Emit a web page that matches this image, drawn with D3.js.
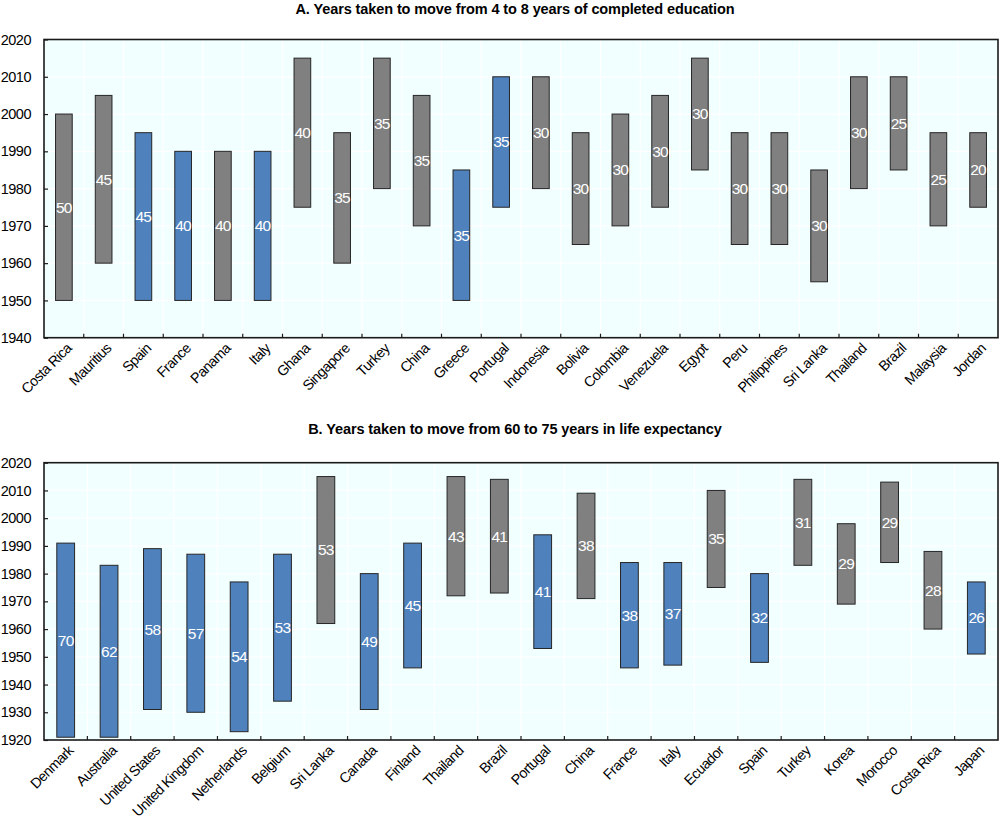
<!DOCTYPE html>
<html><head><meta charset="utf-8">
<script src="https://cdn.jsdelivr.net/npm/d3@7"></script>
<style>
body{margin:0;background:#fff;}
svg{display:block;font-family:"Liberation Sans",Arial,sans-serif;}
</style></head><body>
<svg id="c" width="1000" height="821"></svg>
<script>
// Panel A
const catsA = ["Costa Rica","Mauritius","Spain","France","Panama","Italy","Ghana","Singapore","Turkey","China","Greece","Portugal","Indonesia","Bolivia","Colombia","Venezuela","Egypt","Peru","Philippines","Sri Lanka","Thailand","Brazil","Malaysia","Jordan"];
const startA = [1950,1960,1950,1950,1950,1950,1975,1960,1980,1970,1950,1975,1980,1965,1970,1975,1985,1965,1965,1955,1980,1985,1970,1975];
const endA   = [2000,2005,1995,1990,1990,1990,2015,1995,2015,2005,1985,2010,2010,1995,2000,2005,2015,1995,1995,1985,2010,2010,1995,1995];
const labelA = [50,45,45,40,40,40,40,35,35,35,35,35,30,30,30,30,30,30,30,30,30,25,25,20];
const oecdA  = [0,0,1,1,0,1,0,0,0,0,1,1,0,0,0,0,0,0,0,0,0,0,0,0];
const ticksA = [1940,1950,1960,1970,1980,1990,2000,2010,2020];
const titleA = "A. Years taken to move from 4 to 8 years of completed education";

// Panel B
const catsB = ["Denmark","Australia","United States","United Kingdom","Netherlands","Belgium","Sri Lanka","Canada","Finland","Thailand","Brazil","Portugal","China","France","Italy","Ecuador","Spain","Turkey","Korea","Morocco","Costa Rica","Japan"];
const startB = [1921,1921,1931,1930,1923,1934,1962,1931,1946,1972,1973,1953,1971,1946,1947,1975,1948,1983,1969,1984,1960,1951];
const endB   = [1991,1983,1989,1987,1977,1987,2015,1980,1991,2015,2014,1994,2009,1984,1984,2010,1980,2014,1998,2013,1988,1977];
const labelB = [70,62,58,57,54,53,53,49,45,43,41,41,38,38,37,35,32,31,29,29,28,26];
const oecdB  = [1,1,1,1,1,1,0,1,1,0,0,1,0,1,1,0,1,0,0,0,0,1];
const ticksB = [1920,1930,1940,1950,1960,1970,1980,1990,2000,2010,2020];
const titleB = "B. Years taken to move from 60 to 75 years in life expectancy";

const svg = d3.select("#c");
const BLUE = "#4f81bd", GREY = "#808080";

function panel(cfg){
  const {cats, start, end, labels, oecd, ticks, title, top, bottom, titleY, barFrac} = cfg;
  const L = 44, R = 998;
  const x = d3.scaleBand().domain(cats).range([L, R]).padding(0);
  const y = d3.scaleLinear().domain([ticks[0], ticks[ticks.length-1]]).range([bottom, top]);
  const g = svg.append("g");
  g.append("text").attr("x", 515).attr("y", titleY).attr("text-anchor","middle")
    .attr("font-weight","bold").attr("font-size","14.5px").attr("letter-spacing","-0.1px")
    .attr("fill","#000").text(title);
  g.append("rect").attr("x",L).attr("y",top).attr("width",R-L).attr("height",bottom-top).attr("fill","#f2ffff");
  // gridlines
  g.selectAll(".hg").data(ticks).join("line")
    .attr("x1",L).attr("x2",R).attr("y1",d=>y(d)).attr("y2",d=>y(d))
    .attr("stroke","#fff").attr("stroke-width",1.2);
  const bounds = cats.slice(1).map(c=>x(c));
  g.selectAll(".vg").data(bounds).join("line")
    .attr("x1",d=>d).attr("x2",d=>d).attr("y1",top).attr("y2",bottom)
    .attr("stroke","#fff").attr("stroke-width",1.2);
  // bars
  const bw = x.bandwidth()*barFrac;
  const idx = d3.range(cats.length);
  g.selectAll(".bar").data(idx).join("rect")
    .attr("x", i=>x(cats[i]) + x.bandwidth()/2 - bw/2)
    .attr("width", bw)
    .attr("y", i=>y(end[i]))
    .attr("height", i=>y(start[i]) - y(end[i]))
    .attr("fill", i=>oecd[i] ? BLUE : GREY)
    .attr("stroke","#262626").attr("stroke-width",1);
  g.selectAll(".lbl").data(idx).join("text")
    .attr("x", i=>x(cats[i]) + x.bandwidth()/2)
    .attr("y", i=>y((start[i]+end[i])/2))
    .attr("dy","0.35em").attr("text-anchor","middle")
    .attr("font-size","15.5px").attr("letter-spacing","-0.7px").attr("fill","#fff").text(i=>labels[i]);
  // frame
  g.append("rect").attr("x",L).attr("y",top).attr("width",R-L).attr("height",bottom-top)
    .attr("fill","none").attr("stroke","#1a1a1a").attr("stroke-width",1.6);
  // y axis
  const ya = g.append("g").attr("transform",`translate(${L},0)`)
    .call(d3.axisRight(y).tickValues(ticks).tickFormat(d3.format("d")).tickSize(4).tickPadding(0));
  ya.select(".domain").remove();
  ya.selectAll(".tick line").attr("stroke","#1a1a1a").attr("stroke-width",1.2);
  ya.selectAll(".tick text").attr("x",-13).attr("text-anchor","end")
    .attr("font-size","14.5px").attr("letter-spacing","-0.5px").attr("fill","#000").attr("font-family",null);
  // x ticks at boundaries
  g.selectAll(".xt").data(bounds).join("line")
    .attr("x1",d=>d).attr("x2",d=>d).attr("y1",bottom-4).attr("y2",bottom)
    .attr("stroke","#1a1a1a").attr("stroke-width",1.2);
  // x labels
  g.selectAll(".xl").data(cats).join("text")
    .attr("transform", d=>`translate(${x(d)+x.bandwidth()/2+5},${bottom+8}) rotate(-45)`)
    .attr("text-anchor","end").attr("dy","0.35em")
    .attr("font-size","14.3px").attr("letter-spacing","-0.6px").attr("fill","#000").text(d=>d);
}

panel({cats:catsA,start:startA,end:endA,labels:labelA,oecd:oecdA,ticks:ticksA,title:titleA,top:39.5,bottom:337.7,titleY:14,barFrac:0.42});
panel({cats:catsB,start:startB,end:endB,labels:labelB,oecd:oecdB,ticks:ticksB,title:titleB,top:462.7,bottom:740,titleY:434,barFrac:0.41});
</script>
</body></html>
